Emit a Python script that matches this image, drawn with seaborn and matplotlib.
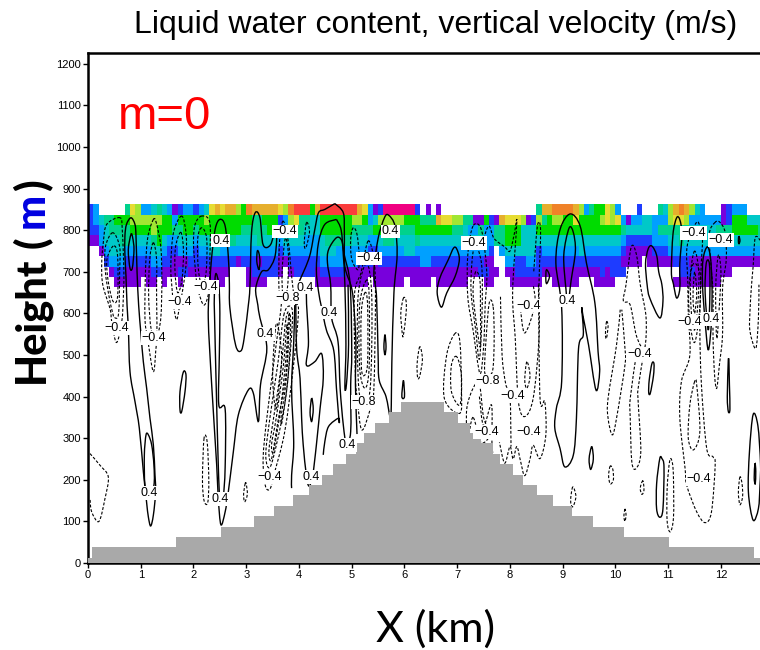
import numpy as np
import pandas as pd
import seaborn as sns
import matplotlib
matplotlib.use("Agg")
import matplotlib.pyplot as plt
from matplotlib.colors import ListedColormap
from matplotlib.path import Path
from matplotlib.patches import PathPatch

sns.set_theme(style="white")
plt.rcParams['font.family'] = ['Liberation Sans', 'DejaVu Sans']

TITLE = "Liquid water content, vertical velocity (m/s)"
X_TICKS = list(range(0, 13))
Y_TICKS = list(range(0, 1201, 100))

# terrain: step edges (km) and heights (m)
TERRAIN_X = [0, .07, 1.67, 2.52, 3.15, 3.53, 3.89, 4.19, 4.44, 4.65, 4.9, 5.08, 5.24, 5.45, 5.71, 5.94, 6.75, 7.02,
             7.25, 7.45, 7.67, 7.82, 8.06, 8.25, 8.52, 8.82, 9.17, 9.58, 10.17, 11.02, 12.63, 12.75]
TERRAIN_H = [12.5, 37.5, 62.5, 87.5, 112.5, 137.5, 162.5, 187.5, 212.5, 237.5, 262.5, 287.5, 312.5, 337.5, 362.5,
             387.5, 362.5, 337.5, 312.5, 287.5, 262.5, 237.5, 212.5, 187.5, 162.5, 137.5, 112.5, 87.5, 62.5, 37.5, 12.5]

# liquid water classes, one string per grid row (0 = none), column width 0.1 km
LWC_850 = ["23000005873345431233234898997 6a99".replace(" ", ""), "999" "87a" "bbb" "69" "bbbbbbb" "9831" "2" "ccccc" "c2010",
           "1" + "0" * 18 + "5" "99" "aaaa" "9735", "66873" "000" "2" "000" "54" "79a97" "43" "000" "123" "33" "000"]
LWC_825 = ["2345566" "6" "777777" "66" "3" "66666" "7" "66666666" "55", "666" "23" "78" "55" "44" "666666" "77" "6" "3" "4" "7" "7777" "6" "66" "55" "5",
           "9" "88" "77" "55" "11" "6" "21" "9" "888" "7" "1" "2" "75" "6" "77" "66" "8" "666",
           "6" "7" "8" "7" "8" "3" "1" "33" "44" "3" "33" "7" "88" "7" "333" "33" "3" "1" "2" "666" "444"]
LWC_800 = ["22" "3" "4" "5555" "6666" "7" "6" "66" "5" "5" "66" "5" "66" "666666" "55" "55",
           "5" "66" "55" "5" "55" "44" "4" "666666" "55" "5" "5" "6" "66" "55" "55" "5" "666" "6",
           "666" "55" "4" "3" "3" "5" "33" "55" "666" "4" "44" "6666666666" "6",
           "66666" "5" "44" "44" "4" "3" "555" "555" "444" "44" "5" "55" "66666" "5"]
LWC_775 = ["1" "1" "3" "4" "44" "55" "444" "4" "5" "6" "4" "33" "4" "44" "3" "44" "55555" "4444" "5",
           "444" "3" "4" "444" "3" "33" "4" "555" "55" "4" "44" "3" "3" "4" "55" "44" "44" "5" "44" "4",
           "444444" "4" "44" "33" "55" "666" "44" "44" "44" "444444" "44",
           "4444" "4" "3" "22" "22" "2" "33" "3" "44" "5" "4" "444" "44" "4" "4" "4" "44444" "4"]
LWC_750 = ["00" "1" "3" "444" "3" "3333" "4" "4" "3" "2" "2" "3" "33" "2" "33" "44" "333" "3333" "3",
           "333" "2" "3" "333" "33" "3" "444" "33" "33" "3" "3" "2" "2" "3" "33" "33" "44" "3" "33" "3",
           "333333" "3" "33" "3" "2" "0" "3" "44" "44" "44" "2" "33" "33333" "4" "33",
           "3333" "3" "2" "11" "11" "1" "2" "22" "3" "33" "3" "333" "33" "3" "333" "3333" "3"]
LWC_725 = ["000" "2" "333" "2" "2222" "33" "22" "1" "1" "1" "22" "22" "2222" "2" "1" "2" "22" "1",
           "222" "1" "1" "222" "22" "2" "333" "33" "33" "2" "2" "2" "1" "2" "22" "22" "22" "2" "33" "2",
           "222222" "2" "22" "1" "1" "0" "0" "33" "22" "33" "2" "22" "22222" "2" "22",
           "2222" "2" "1" "11" "1" "0" "1" "11" "11" "2" "2" "2" "1" "111" "11" "111" "11111"]
LWC_700 = ["0000" "1" "22" "1" "1111" "22" "1" "11" "22" "1" "11" "1" "1111" "0" "00" "1" "22",
           "222" "1" "0" "1" "22" "22" "1" "222" "22" "11" "1" "1" "1" "1" "1" "11" "11" "11" "1" "11" "1",
           "1111" "11" "11" "22" "1" "1" "0" "11" "22" "22" "2" "11" "11111" "1" "11",
           "1" "2" "1" "22" "2" "0000000000" "222" "111" "11" "1" "1" "000000"]
LWC_675 = ["00000" "11111" "0" "11" "0" "1" "00" "1" "00000" "111" "0000" "111",
           "1" "00000" "0000" "1111111111" "0" "111111" "0" "1111" "0",
           "111111" "000" "11" "000" "111111" "00" "11111" "000",
           "1111" "00000000000" "11111111" "1" "00000000"]
LWC_ROWS = [LWC_675, LWC_700, LWC_725, LWC_750, LWC_775, LWC_800, LWC_825, LWC_850]
LWC_COLORS = ['#7800dc', '#1e3cff', '#00a0ff', '#00c8c8', '#00d28c', '#00dc00', '#a0e632', '#e6dc32', '#e6af2d',
              '#f08228', '#fa3c3c', '#f00082']

# contours of vertical velocity, solid = +, dashed = -  (km, m)
SOLID = [
 [(.815,830),(.73,814),(.70,786),(.70,740),(.72,690),(.74,620),(.765,565),(.796,460),(.891,388),(.973,324),(1.05,219),(1.11,147),(1.144,111),(1.188,89),(1.239,115),(1.283,171),(1.27,211),(1.239,284),(1.175,348),(1.112,420),(1.049,484),(1.005,549),(.96,620),(.93,700),(.91,786),(.89,814),(.815,830)],
 [(.815,790),(.764,753),(.796,709),(.84,709),(.872,753),(.847,782),(.815,790)],
 [(1.10,308),(1.068,259),(1.08,187),(1.156,155),(1.25,187),(1.25,235),(1.207,284),(1.144,308),(1.10,308)],
 [(1.807,459),(1.744,412),(1.744,368),(1.776,364),(1.839,412),(1.858,452),(1.807,459)],
 [(2.34,729),(2.41,802),(2.50,826),(2.6,810),(2.66,737),(2.68,673),(2.69,613),(2.80,523),(2.90,510),(2.96,540),(3.04,620),(3.07,665),(3.10,794),(3.17,842),(3.26,830),(3.32,765),(3.46,765),(3.575,810),(3.55,740),(3.42,705),(3.29,700),(3.18,660),(3.22,620),(3.26,589),(3.39,516),(3.27,428),(3.23,340),(3.135,408),(3.04,416),(2.85,356),(2.755,267),(2.66,171),(2.6,123),(2.52,92),(2.47,155),(2.44,235),(2.345,428),(2.28,589),(2.31,669),(2.34,729)],
 [(2.42,695),(2.395,640),(2.40,589),(2.43,428),(2.47,235),(2.5,155),(2.56,155),(2.6,230),(2.6,370),(2.48,380),(2.49,500),(2.5,600),(2.48,669),(2.42,695)],
 [(3.21,750),(3.2,725),(3.24,705),(3.26,725),(3.24,745),(3.21,750)],
 [(4.68,864),(4.49,850),(4.37,842),(4.3,802),(4.2,737),(4.02,681),(3.96,665),(3.94,637),(3.955,516),(4.02,444),(4.05,348),(4.08,284),(4.14,211),(4.19,185),(4.26,211),(4.33,284),(4.4,372),(4.46,444),(4.43,503),(4.3,484),(4.14,476),(4.18,532),(4.14,645),(4.2,669)],
 [(4.68,864),(4.84,842),(4.86,794),(4.87,713),(5.0,660),(5.05,600),(5.08,520),(5.07,430),(5.1,310)],
 [(4.71,826),(4.49,814),(4.37,770),(4.33,705),(4.37,653),(4.43,613),(4.52,560),(4.66,510),(4.71,420),(4.76,340),(4.745,348),(4.56,328),(4.49,292),(4.46,260)],
 [(4.71,826),(4.8,800),(4.84,740),(4.87,669),(4.89,525),(4.87,424),(4.9,430),(4.94,525),(4.93,669)],
 [(4.71,782),(4.56,753),(4.54,721),(4.6,669),(4.62,589),(4.74,532),(4.78,420),(4.84,332),(4.9,285),(4.98,316),(4.98,428),(5.0,508),(4.97,669),(4.86,740),(4.81,775),(4.71,782)],
 [(4.24,396),(4.21,362),(4.24,340),(4.27,370),(4.24,396)],
 [(3.86,180),(3.86,211),(3.9,290),(3.86,420),(3.9,530),(3.92,620)],
 [(5.62,830),(5.5,780),(5.42,700),(5.47,640),(5.5,500),(5.52,440),(5.65,400),(5.73,350),(5.75,380),(5.76,480),(5.8,650),(5.86,740),(5.82,810),(5.7,836),(5.62,830)],
 [(5.63,549),(5.61,520),(5.63,500),(5.65,520),(5.63,549)],
 [(5.98,439),(5.95,400),(6.0,400),(5.98,439)],
 [(6.93,757),(6.83,729),(6.67,685),(6.62,649),(6.70,615),(6.8,649),(6.96,689),(7.04,729),(6.99,755),(6.93,757)],
 [(8.69,705),(8.68,680),(8.7,672),(8.75,690),(8.69,705)],
 [(8.98,613),(8.87,721),(8.95,802),(9.14,839),(9.33,810),(9.45,721),(9.61,625),(9.67,508),(9.7,460),(9.63,416),(9.49,524),(9.39,590),(9.36,613),(9.39,549),(9.3,516),(9.26,348),(9.2,259),(9.04,231),(8.95,275),(8.85,324),(8.88,372),(8.98,436),(8.98,613)],
 [(9.12,805),(9.02,740),(9.06,660),(9.1,625),(9.16,680),(9.24,750),(9.2,795),(9.12,805)],
 [(9.55,280),(9.5,250),(9.53,225),(9.58,250),(9.55,280)],
 [(10.6,669),(10.57,720),(10.62,755),(10.69,762),(10.78,740),(10.82,700),(10.88,669),(10.9,629),(10.84,589),(10.65,637),(10.6,669)],
 [(10.69,479),(10.64,440),(10.63,410),(10.66,408),(10.72,450),(10.73,479),(10.69,479)],
 [(10.84,251),(10.78,190),(10.78,130),(10.84,110),(10.9,130),(10.92,230),(10.88,251),(10.84,251)],
 [(11.16,830),(11.09,790),(11.06,700),(11.1,670),(11.16,637),(11.22,660),(11.22,720),(11.26,790),(11.22,825),(11.16,830)],
 [(11.66,730),(11.65,669),(11.7,580),(11.76,512),(11.82,580),(11.83,669),(11.8,735),(11.74,760),(11.66,730)],
 [(11.72,720),(11.7,650),(11.76,560),(11.79,650),(11.78,720),(11.72,720)],
 [(12.14,492),(12.12,400),(12.14,364),(12.17,370),(12.16,430),(12.15,492)],
 [(12.61,357),(12.54,267),(12.52,171),(12.61,103),(12.71,131),(12.74,187),(12.75,240),(12.7,330),(12.61,357)],
 [(12.645,240),(12.63,205),(12.65,190),(12.66,220),(12.645,240)],
 [(12.34,786),(12.33,775),(12.34,767),(12.36,775),(12.34,786)],
]
DASHED = [
 [(.038,263),(.227,235),(.385,207),(.322,155),(.208,100),(.07,123),(.038,155)],
 [(.607,830),(.354,814),(.29,770),(.26,720),(.28,669),(.42,610),(.45,580),(.54,530),(.64,580),(.67,640),(.68,700),(.65,800),(.607,830)],
 [(.47,794),(.33,760),(.33,700),(.4,640),(.47,600),(.5,590),(.58,600),(.6,700),(.6,760),(.47,794)],
 [(.48,762),(.36,730),(.38,680),(.47,630),(.56,640),(.56,740),(.48,762)],
 [(1.24,826),(1.13,780),(1.09,700),(1.08,589),(1.13,540),(1.24,460),(1.3,530),(1.38,589),(1.40,680),(1.38,760),(1.3,815),(1.24,826)],
 [(1.24,770),(1.17,730),(1.15,640),(1.2,560),(1.3,540),(1.3,650),(1.3,730),(1.24,770)],
 [(1.776,834),(1.62,794),(1.57,713),(1.6,649),(1.62,620),(1.68,585),(1.74,620),(1.8,660),(1.86,720),(1.86,790),(1.776,834)],
 [(1.76,795),(1.66,760),(1.65,700),(1.7,650),(1.78,680),(1.81,750),(1.76,795)],
 [(2.155,834),(2.03,814),(2.0,770),(2.03,713),(2.08,660),(2.2,620),(2.3,660),(2.31,730),(2.31,818),(2.155,834)],
 [(2.155,806),(2.08,780),(2.09,710),(2.16,665),(2.24,700),(2.25,780),(2.155,806)],
 [(3.70,822),(3.63,770),(3.62,660),(3.67,629),(3.55,508),(3.39,348),(3.32,251),(3.36,187),(3.45,178),(3.54,219),(3.73,316),(3.89,468),(3.99,605),(3.92,629),(3.86,690),(3.8,770),(3.70,822)],
 [(3.72,600),(3.6,480),(3.45,350),(3.37,260),(3.45,230),(3.6,300),(3.75,400),(3.85,530),(3.87,610),(3.72,600)],
 [(3.75,585),(3.66,470),(3.52,350),(3.43,270),(3.48,250),(3.6,340),(3.74,440),(3.8,540),(3.82,600),(3.75,585)],
 [(3.77,570),(3.7,470),(3.57,350),(3.48,285),(3.52,270),(3.64,360),(3.72,450),(3.78,540),(3.77,570)],
 [(3.80,590),(3.79,500),(3.74,420),(3.66,350),(3.68,340),(3.78,430),(3.83,520),(3.84,590),(3.80,590)],
 [(3.55,560),(3.5,450),(3.56,370),(3.63,430),(3.67,500),(3.6,570),(3.55,560)],
 [(3.74,780),(3.68,700),(3.7,640),(3.78,660),(3.8,740),(3.74,780)],
 [(4.14,818),(4.1,770),(4.12,756),(4.16,770),(4.2,800),(4.14,818)],
 [(5.03,806),(4.98,780),(5.0,730),(5.12,705),(5.14,740),(5.1,790),(5.03,806)],
 [(5.31,774),(5.18,700),(5.05,640),(5.07,450),(5.1,400),(5.19,320),(5.35,370),(5.42,420),(5.45,650),(5.42,730),(5.31,774)],
 [(5.28,720),(5.12,640),(5.12,450),(5.2,380),(5.35,420),(5.38,640),(5.28,720)],
 [(5.28,680),(5.15,620),(5.15,470),(5.25,420),(5.33,470),(5.33,640),(5.28,680)],
 [(5.25,650),(5.18,600),(5.18,480),(5.22,450),(5.3,480),(5.3,620),(5.25,650)],
 [(5.98,637),(5.93,600),(5.96,550),(5.98,548),(6.03,600),(6.03,630),(5.98,637)],
 [(6.29,520),(6.24,480),(6.25,445),(6.29,450),(6.34,490),(6.29,520)],
 [(6.96,552),(6.8,500),(6.755,396),(7.05,360),(7.08,420),(7.05,532),(6.96,552)],
 [(6.99,496),(6.89,476),(6.89,412),(7.05,380),(7.08,450),(6.99,496)],
 [(7.3,810),(7.2,740),(7.2,640),(7.3,560),(7.43,456),(7.5,520),(7.53,621),(7.56,700),(7.46,800),(7.3,810)],
 [(7.32,760),(7.26,660),(7.35,560),(7.42,490),(7.47,600),(7.46,720),(7.32,760)],
 [(7.35,700),(7.3,650),(7.38,560),(7.44,520),(7.44,610),(7.43,680),(7.35,700)],
 [(7.68,617),(7.6,620),(7.52,480),(7.55,452),(7.67,462),(7.7,540),(7.68,617)],
 [(7.5,780),(7.6,810),(7.7,780),(7.9,760),(8.0,750),(8.08,790),(8.13,820),(8.05,650),(8.1,540),(8.16,388),(8.28,352),(8.44,396),(8.55,540),(8.55,669),(8.58,800),(8.52,810),(8.45,700)],
 [(7.82,640),(7.85,500),(7.92,430),(8.0,400),(8.02,280)],
 [(8.19,620),(8.28,553),(8.47,620),(8.44,669)],
 [(8.32,484),(8.28,440),(8.32,420),(8.38,450),(8.32,484)],
 [(8.54,669),(8.57,396),(8.66,388),(8.68,308),(8.57,251),(8.44,283),(8.38,250),(8.28,210),(8.2,245),(8.13,280),(8.06,250),(8.0,280),(7.9,240),(7.8,290)],
 [(7.3,350),(7.2,300),(7.18,370),(7.3,420),(7.42,430),(7.5,350),(7.62,310),(7.45,290),(7.3,350)],
 [(7.42,400),(7.5,330),(7.65,380),(7.66,280),(7.72,240)],
 [(9.19,183),(9.15,150),(9.19,135),(9.25,160),(9.19,183)],
 [(9.83,580),(9.81,550),(9.83,540),(9.86,570),(9.83,580)],
 [(10.09,609),(10.02,524),(9.86,396),(9.86,348),(9.94,308),(10.02,348),(10.18,476),(10.18,516),(10.12,609)],
 [(10.2,669),(10.15,630),(10.28,620),(10.4,545),(10.55,516),(10.58,590),(10.47,669),(10.4,740),(10.3,760),(10.2,669)],
 [(10.4,505),(10.28,396),(10.28,348),(10.31,243),(10.39,227),(10.48,267),(10.43,388),(10.43,420),(10.53,500)],
 [(10.52,198),(10.47,180),(10.5,165),(10.54,175),(10.52,198)],
 [(10.18,130),(10.16,112),(10.18,100),(10.2,115),(10.18,130)],
 [(11.03,247),(10.98,180),(10.98,100),(11.04,75),(11.1,110),(11.1,200),(11.08,240),(11.03,247)],
 [(9.9,233),(9.87,210),(9.9,190),(9.96,200),(9.95,225),(9.9,233)],
 [(12.36,207),(12.33,170),(12.36,140),(12.41,160),(12.4,190),(12.36,207)],
 [(2.2,300),(2.17,200),(2.2,150),(2.27,145),(2.29,200),(2.26,290),(2.2,300)],
 [(2.98,191),(2.95,165),(2.97,147),(3.02,165),(3.0,190),(2.98,191)],
 [(11.54,819),(11.42,790),(11.35,750),(11.37,680),(11.38,600),(11.41,500),(11.25,436),(11.22,348),(11.32,227),(11.35,187),(11.54,123),(11.7,97),(11.82,123),(11.89,235),(11.85,255),(11.73,275),(11.63,428),(11.6,565),(11.62,700),(11.65,780),(11.6,810),(11.54,819)],
 [(11.5,436),(11.41,380),(11.38,300),(11.48,272),(11.6,316),(11.54,428),(11.5,436)],
 [(11.5,750),(11.42,690),(11.44,600),(11.5,560),(11.56,620),(11.58,700),(11.5,750)],
 [(11.5,700),(11.47,640),(11.5,600),(11.54,650),(11.5,700)],
 [(11.48,720),(11.39,660),(11.41,580),(11.5,530),(11.59,600),(11.61,690),(11.48,720)],
 [(11.89,819),(11.78,790),(11.82,700),(11.85,650),(11.85,540),(11.88,450),(11.92,420),(11.97,476),(12.03,549),(12.03,660),(12.1,730),(12.08,794),(11.98,819),(11.89,819)],
 [(11.95,740),(11.9,660),(11.92,540),(11.97,620),(12.0,700),(11.95,740)],
 [(12.75,775),(12.65,782),(12.61,713),(12.58,669),(12.55,605),(12.55,557),(12.66,516),(12.71,589),(12.72,669)],
]
LABEL_POS = [(1.156,168),(2.50,153),(4.23,206),(4.91,284),(2.52,775),(4.11,662),(4.57,602),(3.36,551),(5.73,797),(9.08,631),(11.82,587)]
LABEL_NEG4 = [(.55,565),(1.25,541),(1.74,628),(2.24,664),(3.45,206),(3.73,797),(5.33,732),(7.32,770),(7.55,315),(8.36,315),
              (8.36,619),(10.45,503),(11.48,794),(12.0,777),(11.40,580),(11.58,202),(8.06,402)]
LABEL_NEG8 = [(3.79,638),(5.23,387),(7.58,438)]

ZMAX = 1226
XMAX = 12.74
fig = plt.figure(figsize=(7.6, 6.5), dpi=100)
rect = [88/760, (650-563)/650, 672/760, 510/650]

# liquid water grid, drawn by seaborn in its own cell units beneath the main axes
def row_values(segments):
    widths = [33, 33, 30, 32]
    s = "".join(seg.ljust(w, "0")[:w] for seg, w in zip(segments, widths))
    return [int(c, 16) for c in s]
lwc = pd.DataFrame([row_values(r) for r in LWC_ROWS])
ax_lwc = fig.add_axes(rect, zorder=0)
sns.heatmap(lwc, mask=lwc == 0, cmap=ListedColormap(LWC_COLORS), vmin=.5, vmax=12.5, cbar=False,
            xticklabels=False, yticklabels=False, ax=ax_lwc)
ax_lwc.set_xlim(0, XMAX / 0.1)
ax_lwc.set_ylim(-662.5 / 25, (ZMAX - 662.5) / 25)
ax_lwc.axis('off')

ax = fig.add_axes(rect, zorder=1)
ax.patch.set_alpha(0)

# velocity contours: smooth curves through the read points
def curve(points):
    p = np.array(points, float)
    n = len(p)
    closed = np.allclose(p[0], p[-1])
    verts, codes = [p[0]], [Path.MOVETO]
    for i in range(n - 1):
        if closed:
            a, d = p[(i - 1) % (n - 1)], p[(i + 2) % (n - 1)]
        else:
            a, d = p[max(i - 1, 0)], p[min(i + 2, n - 1)]
        b, c = p[i], p[i + 1]
        verts += [b + (c - a) / 6, c - (d - b) / 6, c]
        codes += [Path.CURVE4] * 3
    return Path(verts, codes)

for style, group, lw in (('-', SOLID, 1.0), ((0, (2.6, 1.6)), DASHED, 0.8)):
    for line in group:
        ax.add_patch(PathPatch(curve(line), fill=False, edgecolor='black', lw=lw, linestyle=style, zorder=2))

# terrain
ax.fill_between(TERRAIN_X, [*TERRAIN_H, TERRAIN_H[-1]], 0, step='post', color='#a9a9a9', lw=0, zorder=3)

for pts, txt in ((LABEL_POS, "0.4"), (LABEL_NEG4, "\u22120.4"), (LABEL_NEG8, "\u22120.8")):
    for (x, z) in pts:
        ax.text(x, z, txt, fontsize=9, ha='center', va='center', color='black', zorder=4,
                bbox=dict(facecolor='white', edgecolor='none', pad=0.6))

ax.set_xlim(0, XMAX)
ax.set_ylim(0, ZMAX)
ax.set_xticks(X_TICKS)
ax.set_yticks(Y_TICKS)
ax.set_xlabel("")
ax.set_ylabel("")
ax.tick_params(axis='both', direction='out', length=3.5, width=1, labelsize=8, pad=1.5, left=True, bottom=True, colors='black')
for side in ('left', 'bottom', 'top'):
    ax.spines[side].set_linewidth(1.8)
    ax.spines[side].set_color('black')
ax.spines['right'].set_visible(False)
ax.text(.57, 1072, "m=0", fontsize=34, color='red', va='center', ha='left', zorder=5)

fig.text(436/760, 1-25/650, TITLE, fontsize=23, ha='center', va='center', color='black')
fig.text(436/760, 1-629/650, "X (km)", fontsize=31, family=['Lato', 'DejaVu Sans'], ha='center', va='center', color='black')
H = dict(fontsize=30, family=['Lato', 'DejaVu Sans'], fontweight='black', rotation=90, ha='center')
fig.text(32/760, 1-383/650, "Height", va='bottom', color='black', **H)
fig.text(32/760, 1-248/650, "(", va='bottom', color='black', **H)
fig.text(32/760, 1-228/650, "m", va='bottom', color='#0000e0', **H)
fig.text(32/760, 1-190/650, ")", va='bottom', color='black', **H)

fig.savefig("out.png", dpi=100)
